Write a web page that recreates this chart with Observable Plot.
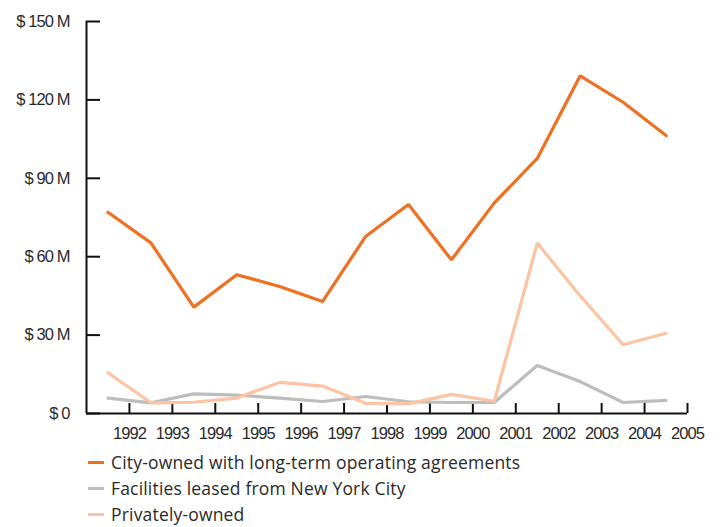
<!DOCTYPE html>
<html>
<head>
<meta charset="utf-8">
<script src="https://cdn.jsdelivr.net/npm/d3@7"></script>
<script src="https://cdn.jsdelivr.net/npm/@observablehq/plot@0.6"></script>
<style>
  body { margin: 0; background: #fff; }
  #chart svg { display: block; }
  #chart svg text { letter-spacing: -0.9px; }
  .legend { margin: 1px 0 0 88px; font-family: "Open Sans", "Liberation Sans", sans-serif; font-weight: 400; font-size: 17.5px; letter-spacing: 0.18px; color: #2a2a2a; }
  .legend .item { height: 26px; line-height: 26px; display: flex; align-items: center; }
  .legend .sw { width: 16px; height: 3px; margin-right: 7px; flex: none; }
</style>
</head>
<body>
<div id="chart"></div>
<div class="legend" id="legend"></div>
<script>
// Data (fiscal periods plotted between year ticks)
const periods = [1991.5, 1992.5, 1993.5, 1994.5, 1995.5, 1996.5, 1997.5, 1998.5, 1999.5, 2000.5, 2001.5, 2002.5, 2003.5, 2004.5];
const cityOwned = [77, 65.3, 40.7, 53.1, 48.6, 42.9, 67.7, 80, 58.8, 80.6, 97.6, 129.2, 119.1, 106.4];
const leased    = [5.9, 4.1, 7.5, 7.0, 5.9, 4.6, 6.5, 4.5, 4.2, 4.2, 18.4, 12.2, 4.2, 5.0];
const privately = [15.6, 4.1, 4.3, 5.9, 11.9, 10.5, 3.9, 3.7, 7.3, 4.7, 65.2, 45.0, 26.3, 30.7];
const seriesNames = ["City-owned with long-term operating agreements", "Facilities leased from New York City", "Privately-owned"];
const seriesColors = ["#f07022", "#bdbdbd", "#fcc4a2"];
const xTickYears = [1992, 1993, 1994, 1995, 1996, 1997, 1998, 1999, 2000, 2001, 2002, 2003, 2004, 2005];
const yTickValues = [0, 30, 60, 90, 120, 150];
const xDomain = [1991, 2005];
const yDomain = [0, 150];

const rows = [];
[cityOwned, leased, privately].forEach((vals, i) => {
  vals.forEach((v, j) => rows.push({series: seriesNames[i], period: periods[j], value: v}));
});

const axisFont = '"Liberation Sans", Arial, sans-serif';

const chart = Plot.plot({
  width: 720,
  height: 448,
  marginTop: 21,
  marginLeft: 86,
  marginRight: 33,
  marginBottom: 35,
  style: {fontFamily: axisFont, fontSize: "16.5px", color: "#2a2a2a", background: "#fff"},
  x: {domain: xDomain},
  y: {domain: yDomain},
  color: {domain: seriesNames, range: seriesColors},
  marks: [
    // y tick labels
    Plot.axisY({ticks: yTickValues, tickSize: 0, tickPadding: 17, tickFormat: d => d === 0 ? "$ 0" : `$ ${d} M`, label: null, fontSize: 16.5, fill: "#2a2a2a"}),
    // inward y ticks
    Plot.axisY({ticks: yTickValues, tickSize: 14, dx: 14, tickFormat: () => "", label: null, stroke: "#111", strokeWidth: 2}),
    // x tick labels
    Plot.axisX({ticks: xTickYears, tickSize: 0, tickPadding: 14, tickFormat: d => String(d), label: null, fontSize: 16.5, fill: "#2a2a2a"}),
    // inward x ticks
    Plot.axisX({ticks: xTickYears, tickSize: 10, dy: -10, tickFormat: () => "", label: null, stroke: "#111", strokeWidth: 2}),
    Plot.ruleY([yDomain[0]], {stroke: "#111", strokeWidth: 2}),
    Plot.ruleX([xDomain[0]], {stroke: "#111", strokeWidth: 2}),
    Plot.line(rows.filter(d => d.series === seriesNames[1]), {x: "period", y: "value", stroke: "series", strokeWidth: 3.2, strokeLinejoin: "miter"}),
    Plot.line(rows.filter(d => d.series === seriesNames[2]), {x: "period", y: "value", stroke: "series", strokeWidth: 3.2, strokeLinejoin: "miter"}),
    Plot.line(rows.filter(d => d.series === seriesNames[0]), {x: "period", y: "value", stroke: "series", strokeWidth: 3.2, strokeLinejoin: "miter"})
  ]
});
document.getElementById("chart").appendChild(chart);

const legend = document.getElementById("legend");
seriesNames.forEach((name, i) => {
  const item = document.createElement("div");
  item.className = "item";
  const sw = document.createElement("span");
  sw.className = "sw";
  sw.style.background = seriesColors[i];
  const label = document.createElement("span");
  label.textContent = name;
  item.appendChild(sw);
  item.appendChild(label);
  legend.appendChild(item);
});
</script>
</body>
</html>
